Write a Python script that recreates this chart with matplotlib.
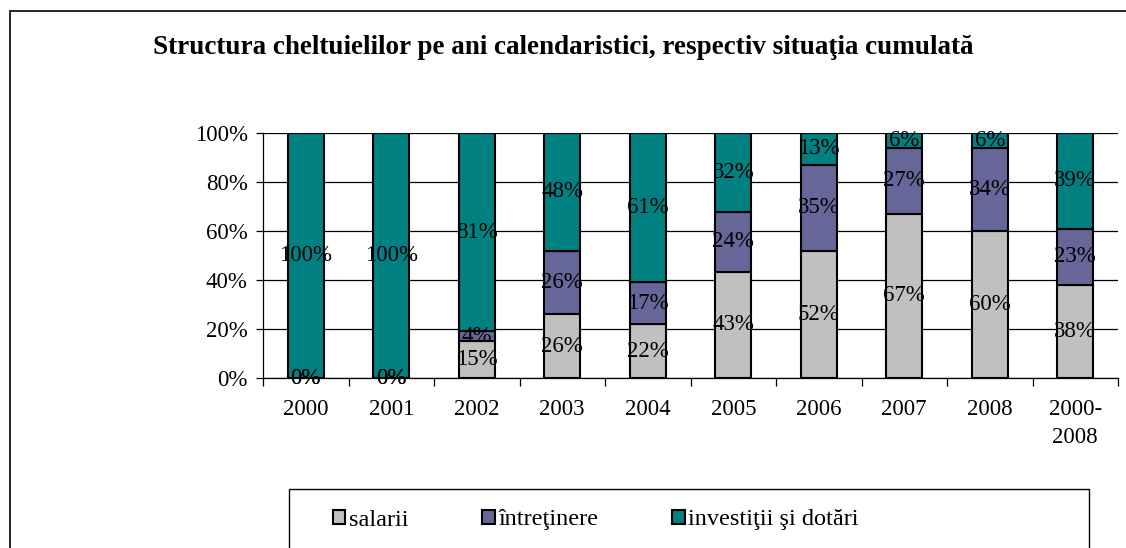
import matplotlib.pyplot as plt
from matplotlib.patches import Rectangle, Patch
import numpy as np

plt.rcParams['font.family'] = ['Liberation Serif', 'DejaVu Serif']

categories = ['2000', '2001', '2002', '2003', '2004', '2005', '2006', '2007', '2008', '2000-\n2008']
salarii = [0, 0, 15, 26, 22, 43, 52, 67, 60, 38]
intretinere = [0, 0, 4, 26, 17, 24, 35, 27, 34, 23]
investitii = [100, 100, 81, 48, 61, 32, 13, 6, 6, 39]

series = [('salarii', salarii, '#C0C0C0'),
          ('întreţinere', intretinere, '#666699'),
          ('investiţii şi dotări', investitii, '#008080')]

fig = plt.figure(figsize=(11.26, 5.48), dpi=100)

# outer chart border (left and top visible)
fig.add_artist(Rectangle((10 / 1126, -0.1), 1.2, 1 - 11 / 548 + 0.1,
                         transform=fig.transFigure, fill=False,
                         edgecolor='black', lw=1.2))

ax = fig.add_axes([263 / 1126, 1 - 378 / 548, 855 / 1126, 245 / 548])

x = np.arange(len(categories))
# normalise each column to 100%
totals = np.array(salarii) + np.array(intretinere) + np.array(investitii)
bottom = np.zeros(len(categories))
for name, vals, col in series:
    vals = np.array(vals, dtype=float)
    h = vals / totals * 100
    ax.bar(x, h, 0.42, bottom=bottom, color=col, edgecolor='black',
           linewidth=1.5, label=name, zorder=3)
    for xi, b, hi, v in zip(x, bottom, h, vals):
        ax.text(xi, b + hi / 2, f'{int(v)}%', ha='center', va='center',
                fontsize=16.5, color='black', zorder=4)
    bottom += h

ax.set_xlim(-0.5, len(categories) - 0.5)
ax.set_ylim(0, 100)
ax.set_yticks(range(0, 101, 20))
ax.set_yticklabels([f'{v}%' for v in range(0, 101, 20)], fontsize=16.5)
ax.yaxis.grid(True, color='black', lw=0.9, zorder=0)
ax.set_xticks(x)
ax.set_xticklabels(categories, fontsize=16.5, va='top', linespacing=1.45)
ax.tick_params(axis='x', which='major', length=0, pad=15)
ax.set_xticks(np.arange(-0.5, len(categories), 1), minor=True)
ax.tick_params(axis='x', which='minor', length=6, width=0.9, direction='out')
ax.tick_params(axis='y', length=5, width=0.9, direction='out', pad=6)
for s in ['top', 'right']:
    ax.spines[s].set_visible(False)
for s in ['left', 'bottom']:
    ax.spines[s].set_linewidth(0.9)

fig.text(563 / 1126, 1 - 47 / 548,
         'Structura cheltuielilor pe ani calendaristici, respectiv situaţia cumulată',
         ha='center', va='center', fontsize=19.5, fontweight='bold')

# legend box, runs off the bottom of the image
fig.add_artist(Rectangle((289 / 1126, -0.1), (1089 - 289) / 1126, 0.1 + 1 - 489 / 548,
                         transform=fig.transFigure, fill=False,
                         edgecolor='black', lw=1.0))
handles = [Patch(facecolor=c, edgecolor='black', lw=1.5, label=n) for n, _, c in series]
fig.legend(handles=handles, loc='center left', ncol=3, frameon=False,
           bbox_to_anchor=(333 / 1126, 1 - 520 / 548), fontsize=17.5,
           handlelength=0.5, handleheight=0.5, handletextpad=0.15,
           columnspacing=3.05, borderaxespad=0, borderpad=0)

fig.savefig('out.png', dpi=100)
